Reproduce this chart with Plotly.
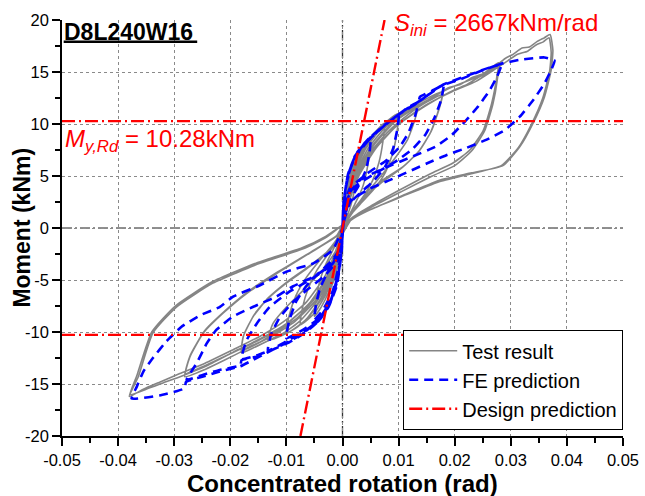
import plotly.graph_objects as go

# ---------------------------------------------------------------
# Test result: cyclic moment-rotation loops, (rotation [rad], moment [kNm])
# each cycle: positive loading, unloading, negative loading, unloading
# ---------------------------------------------------------------
test_c1 = [(0, 0), (0.0003, 2.0), (0.0008, 4.0), (0.0016, 5.8), (0.0028, 7.0),
           (0.0026, 5.5), (0.0022, 3.8), (0.0015, 2.2), (0.0007, 0.9), (0.0, -0.3),
           (-0.0003, -1.5), (-0.0008, -3.5), (-0.0015, -5.0), (-0.0025, -6.2),
           (-0.0023, -4.8), (-0.0018, -3.3), (-0.0011, -2.0), (-0.0004, -0.8), (0, 0.2)]
test_c2 = [(0, 0.2), (0.0004, 2.3), (0.0012, 4.6), (0.0025, 6.6), (0.0038, 7.9), (0.0050, 8.8),
           (0.0048, 7.2), (0.0043, 5.4), (0.0035, 3.8), (0.0022, 2.3), (0.0010, 1.0), (0.0, -0.3),
           (-0.0004, -2.0), (-0.0012, -4.2), (-0.0025, -6.2), (-0.0038, -7.6), (-0.0050, -8.5),
           (-0.0047, -6.8), (-0.0040, -5.0), (-0.0029, -3.4), (-0.0015, -1.9), (-0.0004, -0.6), (0, 0.2)]
test_c3 = [(0, 0.2), (0.0005, 2.4), (0.0015, 4.9), (0.0030, 7.0), (0.0050, 8.7), (0.0075, 10.1),
           (0.0072, 8.3), (0.0065, 6.3), (0.0054, 4.6), (0.0038, 3.1), (0.0020, 1.7), (0.0006, 0.5), (0, -0.4),
           (-0.0005, -2.0), (-0.0015, -4.3), (-0.0030, -6.4), (-0.0050, -8.2), (-0.0075, -9.3),
           (-0.0071, -7.6), (-0.0061, -5.8), (-0.0046, -4.1), (-0.0027, -2.6), (-0.0010, -1.2), (0, 0.2)]
test_c4 = [(0, 0.2), (0.0006, 2.4), (0.0018, 5.0), (0.0035, 7.3), (0.0058, 9.1), (0.0080, 10.3), (0.0100, 11.0),
           (0.0097, 9.2), (0.0089, 7.1), (0.0076, 5.3), (0.0057, 3.8), (0.0035, 2.5), (0.0015, 1.3), (0.0003, 0.2), (0, -0.4),
           (-0.0006, -2.0), (-0.0018, -4.4), (-0.0035, -6.6), (-0.0058, -8.4), (-0.0080, -9.5), (-0.0100, -10.1),
           (-0.0095, -8.4), (-0.0083, -6.5), (-0.0065, -4.8), (-0.0042, -3.2), (-0.0020, -1.8), (-0.0005, -0.6), (0, 0.2)]
test_c5 = [(0, 0.2), (0.0007, 2.5), (0.0020, 5.1), (0.0040, 7.5), (0.0065, 9.3), (0.0095, 10.7), (0.0135, 12.0),
           (0.0129, 10.4), (0.0116, 8.5), (0.0096, 6.9), (0.0070, 5.1), (0.0045, 3.5), (0.0020, 1.8), (0.0005, 0.5), (0, -0.5),
           (-0.0007, -2.3), (-0.0020, -4.6), (-0.0040, -6.9), (-0.0065, -8.8), (-0.0095, -10.0), (-0.0133, -10.8),
           (-0.0124, -9.2), (-0.0100, -7.6), (-0.0070, -6.0), (-0.0035, -4.0), (-0.0011, -2.1), (0, 0.3)]
test_c6 = [(0, 0.3), (0.0008, 2.5), (0.0022, 5.1), (0.0045, 7.6), (0.0075, 9.6), (0.0110, 11.1), (0.0145, 12.3), (0.0179, 13.1),
           (0.0173, 11.7), (0.0159, 9.4), (0.0138, 7.5), (0.0108, 5.9), (0.0066, 4.4), (0.0035, 2.7), (0.0012, 1.0), (0, -0.5),
           (-0.0008, -2.4), (-0.0022, -4.7), (-0.0045, -7.0), (-0.0075, -8.9), (-0.0105, -10.1), (-0.0135, -10.9),
           (-0.0158, -11.5), (-0.0180, -12.0),
           (-0.0177, -10.45), (-0.0159, -8.5), (-0.0135, -6.9), (-0.0100, -5.3), (-0.0058, -3.7), (-0.0017, -1.8), (0, 0.3)]
test_c6b = [(0, 0.3), (0.0009, 2.4), (0.0025, 4.9), (0.0050, 7.3), (0.0082, 9.3), (0.0117, 10.9), (0.0150, 12.1), (0.0178, 12.8),
            (0.0172, 11.4), (0.0157, 9.2), (0.0135, 7.3), (0.0104, 5.7), (0.0068, 4.3), (0.0036, 2.8), (0.0012, 1.1), (0, -0.5),
            (-0.0009, -2.3), (-0.0025, -4.5), (-0.0050, -6.8), (-0.0082, -8.7), (-0.0115, -9.9), (-0.0145, -10.9),
            (-0.0165, -11.4), (-0.0180, -11.8),
            (-0.0176, -10.3), (-0.0157, -8.3), (-0.0132, -6.7), (-0.0097, -5.1), (-0.0055, -3.5), (-0.0016, -1.7), (0, 0.3)]
test_c7 = [(0, 0.3), (0.0009, 2.5), (0.0025, 5.2), (0.0050, 7.7), (0.0085, 9.9), (0.0125, 11.5), (0.0165, 12.7),
           (0.0190, 13.5), (0.0210, 13.8), (0.0232, 14.5), (0.0250, 14.8), (0.0265, 15.4), (0.0278, 15.9),
           (0.0275, 14.5), (0.0266, 12.0), (0.0251, 9.4), (0.0227, 7.5), (0.0197, 6.25), (0.0156, 5.2),
           (0.0100, 3.6), (0.0050, 2.1), (0.0015, 0.9), (0, -0.6),
           (-0.0010, -2.5), (-0.0025, -4.8), (-0.0050, -7.1), (-0.0085, -9.0), (-0.0125, -10.4), (-0.0170, -11.6),
           (-0.0210, -12.7), (-0.0245, -13.6), (-0.0281, -14.3),
           (-0.0272, -12.4), (-0.0248, -10.1), (-0.0213, -8.2), (-0.0171, -6.3), (-0.0118, -4.4), (-0.0058, -2.4),
           (-0.0011, -0.8), (0, 0.3)]
test_c7b = [(0, 0.3), (0.0010, 2.4), (0.0028, 5.0), (0.0056, 7.5), (0.0092, 9.6), (0.0135, 11.3), (0.0175, 12.6),
            (0.0200, 13.3), (0.0222, 13.8), (0.0240, 14.4), (0.0258, 14.9), (0.0278, 15.6),
            (0.0276, 14.3), (0.0268, 11.9), (0.0253, 9.3), (0.0230, 7.4), (0.0200, 6.0), (0.0160, 5.0),
            (0.0105, 3.5), (0.0055, 2.1), (0.0017, 0.9), (0, -0.6),
            (-0.0011, -2.4), (-0.0028, -4.7), (-0.0055, -7.0), (-0.0092, -8.9), (-0.0135, -10.4), (-0.0180, -11.6),
            (-0.0220, -12.6), (-0.0252, -13.4), (-0.0280, -14.0),
            (-0.0271, -12.2), (-0.0246, -9.9), (-0.0210, -8.0), (-0.0168, -6.1), (-0.0115, -4.2), (-0.0056, -2.3),
            (-0.0010, -0.7), (0, 0.3)]
test_c8 = [(0, 0.3), (0.0010, 2.5), (0.0028, 5.3), (0.0055, 7.9), (0.0095, 10.3), (0.0140, 11.9), (0.0185, 13.3),
           (0.0230, 14.3), (0.0262, 15.1), (0.0290, 16.3), (0.0304, 16.7), (0.0320, 17.3), (0.0333, 17.4),
           (0.0346, 17.9), (0.0360, 18.3), (0.0370, 18.6),
           (0.0375, 17.1), (0.0372, 15.2), (0.0360, 12.6), (0.0340, 10.1), (0.0316, 7.8), (0.0286, 6.0),
           (0.0230, 5.3), (0.0173, 4.6), (0.0110, 3.2), (0.0060, 2.0), (0.0025, 1.2), (0.0008, 0.4), (0, -0.6),
           (-0.0012, -2.5), (-0.0030, -4.9), (-0.0060, -7.3), (-0.0100, -9.2), (-0.0145, -10.6), (-0.0190, -11.8),
           (-0.0240, -13.2), (-0.0285, -14.2), (-0.0320, -14.9), (-0.0350, -15.5), (-0.0378, -16.0),
           (-0.0364, -14.3), (-0.0338, -10.1), (-0.0296, -7.6), (-0.0231, -5.3), (-0.0147, -3.4), (-0.0070, -2.0),
           (-0.0029, -0.9), (0, 0.3)]
test_c8b = [(0, 0.3), (0.0011, 2.4), (0.0030, 5.1), (0.0060, 7.7), (0.0100, 10.0), (0.0148, 11.8), (0.0195, 13.1),
            (0.0238, 14.1), (0.0270, 15.2), (0.0295, 16.1), (0.0312, 16.7), (0.0330, 17.0), (0.0345, 17.6),
            (0.0358, 17.9), (0.0368, 18.3),
            (0.0372, 16.9), (0.0369, 15.0), (0.0357, 12.5), (0.0337, 10.0), (0.0313, 7.7), (0.0283, 6.0),
            (0.0228, 5.2), (0.0170, 4.4), (0.0105, 3.0), (0.0055, 1.9), (0.0022, 1.0), (0.0006, 0.3), (0, -0.6),
            (-0.0013, -2.4), (-0.0032, -4.7), (-0.0064, -7.1), (-0.0105, -9.0), (-0.0150, -10.5), (-0.0195, -11.7),
            (-0.0245, -13.0), (-0.0290, -14.0), (-0.0325, -14.8), (-0.0355, -15.5), (-0.0380, -16.2),
            (-0.0366, -14.1), (-0.0340, -10.0), (-0.0298, -7.5), (-0.0233, -5.2), (-0.0150, -3.3), (-0.0072, -1.9),
            (-0.0030, -0.8), (0, 0.3)]

# ---------------------------------------------------------------
# FE prediction: cyclic loops, (rotation [rad], moment [kNm])
# ---------------------------------------------------------------
fe_c1 = [(0, 0), (0.0001, 1.0), (0.0004, 3.3), (0.0013, 5.6), (0.0028, 7.2), (0.0050, 8.6),
         (0.0048, 7.2), (0.0042, 5.6), (0.0030, 4.2), (0.0015, 2.8), (0.0004, 1.6), (0.0001, 0.0),
         (-0.0001, -1.0), (-0.0005, -3.2), (-0.0017, -6.0), (-0.0035, -7.9), (-0.0050, -8.8),
         (-0.0047, -7.3), (-0.0040, -5.8), (-0.0028, -4.4), (-0.0014, -3.0), (-0.0004, -1.8), (0, 0)]
fe_c2 = [(0, 0), (0.0002, 1.8), (0.0006, 4.0), (0.0016, 6.0), (0.0032, 7.6), (0.0055, 8.9), (0.0078, 10.0), (0.0100, 10.8),
         (0.0097, 9.3), (0.0090, 7.6), (0.0076, 5.9), (0.0055, 4.5), (0.0030, 3.3), (0.0010, 2.2), (0.0002, 0.5),
         (-0.0001, -1.5), (-0.0006, -4.0), (-0.0020, -6.8), (-0.0040, -8.6), (-0.0065, -9.6), (-0.0100, -10.6),
         (-0.0095, -8.9), (-0.0083, -7.1), (-0.0065, -5.6), (-0.0042, -4.3), (-0.0020, -3.2), (-0.0005, -2.0), (0, 0)]
fe_c3 = [(0, 0), (0.0002, 2.0), (0.0007, 4.3), (0.0018, 6.3), (0.0035, 7.9), (0.0060, 9.2), (0.0090, 10.5),
         (0.0114, 11.5), (0.0135, 12.1),
         (0.0129, 10.7), (0.0117, 9.1), (0.0102, 7.8), (0.0078, 6.5), (0.0043, 5.2), (0.0013, 3.8), (0.0003, 2.0), (0, 0),
         (-0.0002, -2.0), (-0.0008, -4.6), (-0.0022, -7.2), (-0.0042, -8.9), (-0.0070, -10.0), (-0.0100, -10.9),
         (-0.0133, -11.8),
         (-0.0127, -10.2), (-0.0112, -8.6), (-0.0090, -7.2), (-0.0062, -5.9), (-0.0032, -4.6), (-0.0010, -3.2), (0, 0)]
fe_c4 = [(0, 0), (0.0002, 2.2), (0.0008, 4.6), (0.0020, 6.6), (0.0040, 8.2), (0.0068, 9.6), (0.0100, 10.9),
         (0.0135, 12.1), (0.0138, 12.6), (0.0160, 13.2), (0.0180, 13.7),
         (0.0175, 12.2), (0.0164, 10.6), (0.0148, 9.0), (0.0125, 7.6), (0.0095, 6.4), (0.0060, 5.3), (0.0025, 4.1),
         (0.0005, 2.5), (0, 0),
         (-0.0002, -2.2), (-0.0009, -5.0), (-0.0022, -7.2), (-0.0040, -8.8), (-0.0065, -10.0), (-0.0095, -11.0),
         (-0.0125, -11.7), (-0.0150, -12.2), (-0.0180, -12.6),
         (-0.0171, -10.8), (-0.0153, -9.2), (-0.0130, -7.6), (-0.0094, -6.1), (-0.0058, -5.0), (-0.0023, -3.7),
         (-0.0005, -2.0), (0, 0)]
fe_c5 = [(0, 0), (0.0002, 2.4), (0.0009, 4.9), (0.0022, 6.9), (0.0045, 8.5), (0.0075, 9.9), (0.0105, 11.1),
         (0.0135, 12.1), (0.0173, 13.6), (0.0215, 14.4), (0.0251, 15.2), (0.0283, 15.7),
         (0.0275, 14.5), (0.0263, 13.3), (0.0242, 11.7), (0.0221, 10.4), (0.0194, 8.9), (0.0165, 7.8), (0.0126, 6.9),
         (0.0072, 5.7), (0.0031, 4.6), (0.0008, 3.0), (0, 0),
         (-0.0002, -2.5), (-0.0010, -5.5), (-0.0025, -7.6), (-0.0045, -9.0), (-0.0075, -10.3), (-0.0110, -11.3),
         (-0.0147, -12.3), (-0.0180, -12.7), (-0.0182, -13.2), (-0.0219, -13.65), (-0.0248, -14.1), (-0.0278, -14.6),
         (-0.0260, -13.0), (-0.0242, -11.1), (-0.0225, -9.8), (-0.0195, -8.5), (-0.0160, -7.6), (-0.0118, -6.6),
         (-0.0088, -5.6), (-0.0052, -4.7), (-0.0017, -3.4), (-0.0003, -1.5), (0, 0)]
fe_c6 = [(0, 0), (0.0002, 2.5), (0.0010, 5.2), (0.0025, 7.2), (0.0049, 8.6), (0.0080, 10.1), (0.0110, 11.3),
         (0.0140, 12.3), (0.0180, 13.8), (0.0220, 14.6), (0.0255, 15.3), (0.0283, 15.8), (0.0319, 16.2),
         (0.0360, 16.4), (0.0378, 16.1),
         (0.0372, 15.2), (0.0360, 13.9), (0.0340, 12.3), (0.0316, 10.7), (0.0289, 9.4), (0.0257, 8.5), (0.0221, 7.7),
         (0.0185, 7.0), (0.0150, 6.2), (0.0084, 4.6), (0.0049, 3.8), (0.0015, 2.6), (0.0002, 0.5),
         (-0.0002, -2.6), (-0.0012, -5.8), (-0.0028, -7.8), (-0.0050, -9.2), (-0.0085, -10.6), (-0.0124, -11.7),
         (-0.0160, -12.7), (-0.0182, -13.3), (-0.0219, -13.8), (-0.0250, -14.3), (-0.0279, -14.8), (-0.0281, -15.4),
         (-0.0296, -15.7), (-0.0326, -16.1), (-0.0376, -16.4),
         (-0.0367, -15.3), (-0.0355, -13.8), (-0.0338, -12.5), (-0.0314, -10.9), (-0.0287, -9.5), (-0.0254, -8.4),
         (-0.0219, -7.6), (-0.0195, -6.6), (-0.0147, -5.5), (-0.0100, -4.2), (-0.0052, -3.4), (-0.0017, -2.1), (0, 0)]

test_cycles = [test_c1, test_c2, test_c3, test_c4, test_c5, test_c6, test_c6b,
               test_c7, test_c7b, test_c8, test_c8b]
fe_cycles = [fe_c1, fe_c2, fe_c3, fe_c4, fe_c5, fe_c6]

# Design values (EC3 component method)
S_INI = 2667.0     # initial rotational stiffness, kNm/rad
M_Y_RD = 10.28     # yield moment resistance, kNm
stiffness_moment = [-20.0, 20.0]
yield_rot_span = [-0.05, 0.05]

# Axis ticks
x_tick_vals = [-0.05, -0.04, -0.03, -0.02, -0.01, 0.0, 0.01, 0.02, 0.03, 0.04, 0.05]
x_tick_text = ["-0.05", "-0.04", "-0.03", "-0.02", "-0.01", "0.00", "0.01", "0.02", "0.03", "0.04", "0.05"]
y_tick_vals = [-20, -15, -10, -5, 0, 5, 10, 15, 20]
y_tick_text = ["-20", "-15", "-10", "-5", "0", "5", "10", "15", "20"]

FONT = "Arial, 'Liberation Sans', sans-serif"
RED = "#FF0000"
RED_DASH = "13px,4px,2px,4px"


def unpack(cycles):
    rot, mom = [], []
    for cyc in cycles:
        for r, m in cyc:
            rot.append(r)
            mom.append(m)
    return rot, mom


test_rot, test_mom = unpack(test_cycles)
fe_rot, fe_mom = unpack(fe_cycles)
stiffness_rot = [m / S_INI for m in stiffness_moment]

fig = go.Figure()

fig.add_trace(go.Scatter(
    x=test_rot, y=test_mom, mode="lines", name="Test result",
    line=dict(color="#858585", width=1.6, shape="spline", smoothing=0.5)))
fig.add_trace(go.Scatter(
    x=fe_rot, y=fe_mom, mode="lines", name="FE prediction",
    line=dict(color="#0000FF", width=2.6, dash="9px,6px", shape="spline", smoothing=0.4)))
fig.add_trace(go.Scatter(
    x=stiffness_rot, y=stiffness_moment, mode="lines", name="Design prediction",
    line=dict(color=RED, width=2.4, dash=RED_DASH)))
for sign in (1, -1):
    fig.add_trace(go.Scatter(
        x=yield_rot_span, y=[sign * M_Y_RD] * 2, mode="lines", showlegend=False,
        line=dict(color=RED, width=2.4, dash=RED_DASH)))

# dash-dot reference lines through the origin
fig.add_shape(type="line", xref="paper", yref="y", x0=0, x1=1, y0=0, y1=0,
              line=dict(color="#222222", width=1.1, dash="10px,3px,2px,3px"), layer="below")
fig.add_shape(type="line", xref="x", yref="paper", x0=0, x1=0, y0=0, y1=1,
              line=dict(color="#333333", width=1.3, dash="10px,3px,2px,3px"), layer="below")

fig.add_annotation(text="<b>D8L240W16</b>", xref="paper", yref="paper",
                   x=0.0, y=0.972, xanchor="left", yanchor="middle", showarrow=False,
                   font=dict(family=FONT, size=23, color="black"))
fig.add_shape(type="line", xref="paper", yref="paper", x0=0.003, x1=0.241, y0=0.948, y1=0.948,
              line=dict(color="black", width=2.5))
fig.add_annotation(text="<i>S</i><sub><i>ini</i></sub> = %dkNm/rad" % S_INI, xref="paper", yref="paper",
                   x=0.589, y=0.99, xanchor="left", yanchor="middle", showarrow=False,
                   font=dict(family=FONT, size=24, color=RED))
fig.add_annotation(text="<i>M</i><sub><i>y,Rd</i></sub> = %.2fkNm" % M_Y_RD, xref="paper", yref="paper",
                   x=0.002, y=0.71, xanchor="left", yanchor="middle", showarrow=False,
                   font=dict(family=FONT, size=24, color=RED))

# axis titles
fig.add_annotation(text="<b>Concentrated rotation (rad)</b>", xref="paper", yref="paper",
                   x=0.5, y=-0.113, xanchor="center", yanchor="middle", showarrow=False,
                   font=dict(family=FONT, size=24, color="black"))
fig.add_annotation(text="<b>Moment (kNm)</b>", xref="paper", yref="paper", textangle=-90,
                   x=-0.072, y=0.5, xanchor="center", yanchor="middle", showarrow=False,
                   font=dict(family=FONT, size=23, color="black"))

axis_common = dict(
    showline=True, linecolor="black", linewidth=1.5, mirror=False,
    ticks="outside", ticklen=8, tickwidth=1.5, tickcolor="black",
    showgrid=True, gridcolor="#8a8a8a", gridwidth=1, griddash="dot",
    zeroline=False, tickfont=dict(family=FONT, size=16.5, color="black"),
)

fig.update_xaxes(
    range=[-0.05, 0.05], tickmode="array", tickvals=x_tick_vals, ticktext=x_tick_text,
    minor=dict(dtick=0.005, tick0=0, ticks="outside", ticklen=5, tickwidth=1.5, tickcolor="black", showgrid=False),
    **axis_common)
fig.update_yaxes(
    range=[-20, 20], tickmode="array", tickvals=y_tick_vals, ticktext=y_tick_text,
    minor=dict(dtick=2.5, tick0=0, ticks="outside", ticklen=5, tickwidth=1.5, tickcolor="black", showgrid=False),
    **axis_common)

fig.update_layout(
    width=645, height=496,
    margin=dict(l=62, r=22, t=20, b=60, autoexpand=False),
    paper_bgcolor="white", plot_bgcolor="white",
    showlegend=True,
    legend=dict(x=1.0, xanchor="right", y=0.0144, yanchor="bottom",
                bgcolor="white", bordercolor="black", borderwidth=1.2,
                font=dict(family=FONT, size=20, color="black"),
                itemwidth=48, tracegroupgap=0, entrywidth=200),
)

fig.write_html("out.html")
